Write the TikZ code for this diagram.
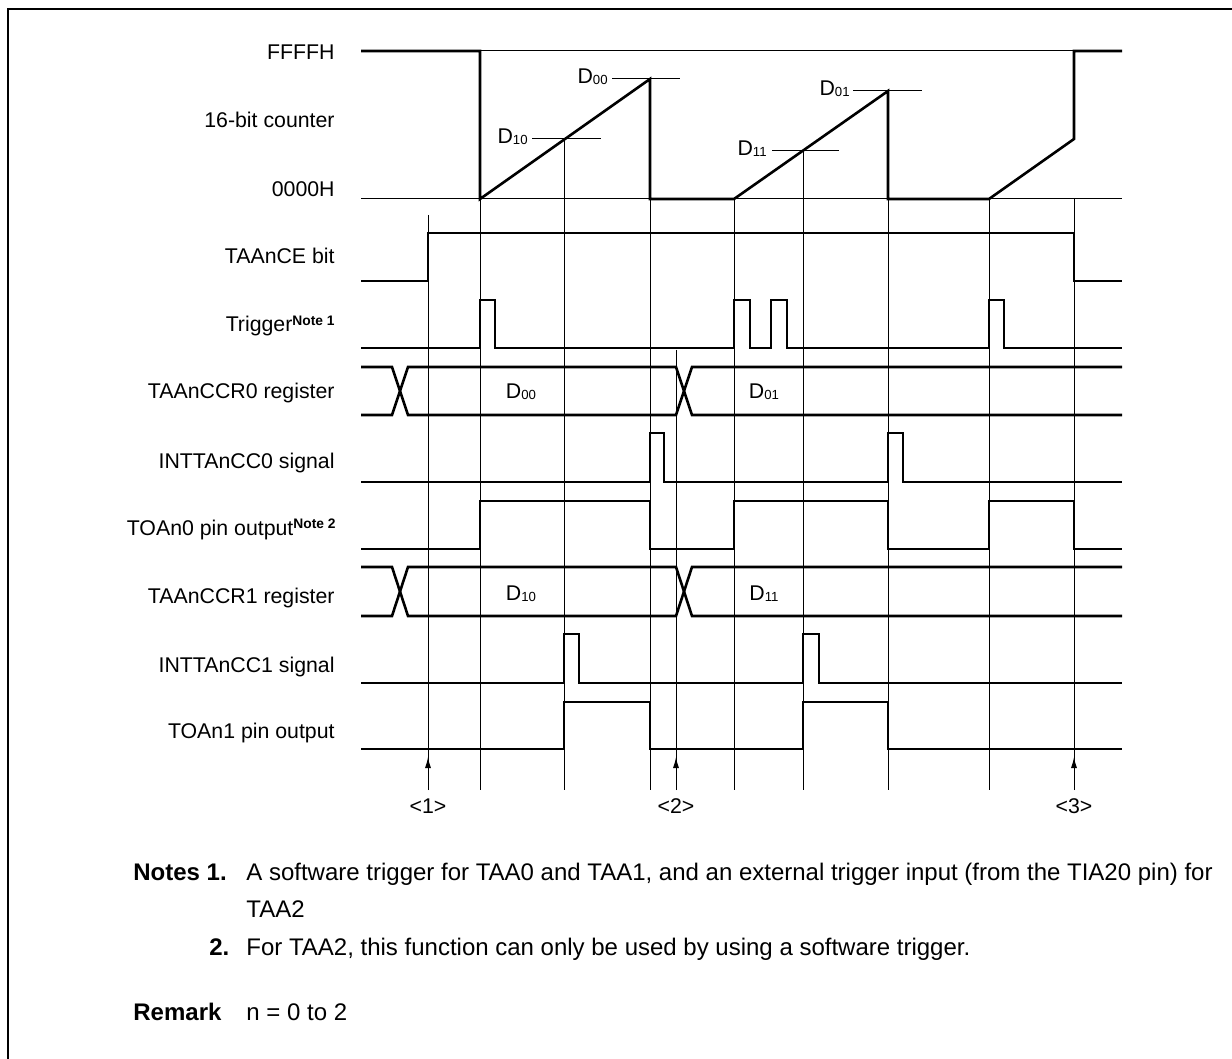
\documentclass[tikz,border=0pt]{standalone}
\usepackage{fontspec}
\setmainfont{Liberation Sans}
\usetikzlibrary{arrows.meta}
\newcommand\fsz{\fontsize{10.65}{13}\selectfont}
\newcommand\nsz{\fontsize{12}{14}\selectfont}
\newcommand\Dsub[1]{D{\fontsize{6.6}{7}\selectfont\raisebox{-0.5pt}{#1}}}
\newcommand\NoteSup[1]{\raisebox{3.3pt}{\fontsize{6.9}{7}\selectfont\bfseries #1}}
\begin{document}
\begin{tikzpicture}[x=0.5pt,y=-0.5pt,
  sig/.style={line width=1.3pt},
  thinline/.style={line width=0.5pt},
  lbl/.style={anchor=base east, inner sep=0pt, font=\fsz},
  txt/.style={anchor=base west, inner sep=0pt, font=\nsz},
  ctr/.style={anchor=base, inner sep=0pt, font=\fsz},
  upArrow/.style={line width=0.5pt,-{Latex[length=5.5pt,width=3pt]}}]
\useasboundingbox (0,0) rectangle (1232,1059);
% frame
\draw[line width=1.35pt] (8,1060) -- (8,9) -- (1233,9);

% thin reference lines
\draw[thinline] (480,51) -- (1074,51);
\draw[thinline] (361,199) -- (1122,199);
\draw[thinline] (428,215) -- (428,790);
\draw[thinline] (676,350) -- (676,790);
\draw[thinline] (1074,199) -- (1074,790);
\foreach \x in {480,650,734,888,989} \draw[thinline] (\x,199) -- (\x,790);
\draw[thinline] (564,139) -- (564,790);
\draw[thinline] (803,151) -- (803,790);

% compare value ticks
\draw[thinline] (612,79) -- (680,79);
\draw[thinline] (532,139) -- (601,139);
\draw[thinline] (853,91) -- (922,91);
\draw[thinline] (772,151) -- (839,151);
\node[lbl] (d00) at (608,84) {\Dsub{00}};
\node[lbl] (d10) at (528,144) {\Dsub{10}};
\node[lbl] (d01) at (850,96) {\Dsub{01}};
\node[lbl] (d11) at (767,156) {\Dsub{11}};

% 16-bit counter
\draw[sig] (361,51) -- (480,51) -- (480,199) -- (650,79) -- (650,199) -- (734,199)
  -- (888,91) -- (888,199) -- (989,199) -- (1074,139) -- (1074,51) -- (1122,51);

% TAAnCE
\draw[sig] (361,281) -- (428,281) -- (428,233) -- (1074,233) -- (1074,281) -- (1122,281);
% Trigger
\draw[sig] (361,348) -- (480,348) -- (480,300) -- (495,300) -- (495,348) -- (734,348)
  -- (734,300) -- (750,300) -- (750,348) -- (771,348) -- (771,300) -- (787,300)
  -- (787,348) -- (989,348) -- (989,300) -- (1004,300) -- (1004,348) -- (1122,348);
% buses
\foreach \t/\b in {367/415,567/616}{
  \draw[sig] (361,\t) -- (392,\t) -- (408,\b) -- (676,\b) -- (692,\t) -- (1122,\t);
  \draw[sig] (361,\b) -- (392,\b) -- (408,\t) -- (676,\t) -- (692,\b) -- (1122,\b);
}
\node[ctr] (b00) at (521,399) {\Dsub{00}};
\node[ctr] (b01) at (764,399) {\Dsub{01}};
\node[ctr] (b10) at (521,600) {\Dsub{10}};
\node[ctr] (b11) at (764,600) {\Dsub{11}};
% INTTAnCC0
\draw[sig] (361,482) -- (650,482) -- (650,433) -- (664,433) -- (664,482) -- (888,482)
  -- (888,433) -- (903,433) -- (903,482) -- (1122,482);
% TOAn0
\draw[sig] (361,549) -- (480,549) -- (480,501) -- (650,501) -- (650,549) -- (734,549)
  -- (734,501) -- (888,501) -- (888,549) -- (989,549) -- (989,501) -- (1074,501)
  -- (1074,549) -- (1122,549);
% INTTAnCC1
\draw[sig] (361,683) -- (564,683) -- (564,634) -- (579,634) -- (579,683) -- (803,683)
  -- (803,634) -- (819,634) -- (819,683) -- (1122,683);
% TOAn1
\draw[sig] (361,749) -- (564,749) -- (564,702) -- (650,702) -- (650,749) -- (803,749)
  -- (803,702) -- (888,702) -- (888,749) -- (1122,749);

% arrows and markers
\draw[upArrow] (428,790) -- (428,757);
\draw[upArrow] (676,790) -- (676,757);
\draw[upArrow] (1074,790) -- (1074,757);
\node[ctr] (m1) at (428,813) {<1>};
\node[ctr] (m2) at (676,813) {<2>};
\node[ctr] (m3) at (1074,813) {<3>};

% row labels
\node[lbl] (lffff) at (335,60) {FFFFH};
\node[lbl] (lcnt) at (335,128) {16-bit counter};
\node[lbl] (l0000) at (335,197) {0000H};
\node[lbl] (lce) at (335,264) {TAAnCE bit};
\node[lbl] (ltrg) at (335,332) {Trigger\NoteSup{Note 1}};
\node[lbl] (lccr0) at (335,399) {TAAnCCR0 register};
\node[lbl] (lint0) at (335,468) {INTTAnCC0 signal};
\node[lbl] (ltoa0) at (336,535) {TOAn0 pin output\NoteSup{Note 2}};
\node[lbl] (lccr1) at (335,603) {TAAnCCR1 register};
\node[lbl] (lint1) at (335,672) {INTTAnCC1 signal};
\node[lbl] (ltoa1) at (335,738) {TOAn1 pin output};

% notes
\node[txt] (n1h) at (133,880) {\bfseries Notes 1.};
\node[txt] (n1a) at (246,880) {A software trigger for TAA0 and TAA1, and an external trigger input (from the TIA20 pin) for};
\node[txt] (n1b) at (246,917) {TAA2};
\node[txt] (n2h) at (209,955) {\bfseries 2.};
\node[txt] (n2a) at (246,955) {For TAA2, this function can only be used by using a software trigger.};
\node[txt] (rmh) at (133,1020) {\bfseries Remark};
\node[txt] (rma) at (246,1020) {n = 0 to 2};
\end{tikzpicture}
\end{document}
